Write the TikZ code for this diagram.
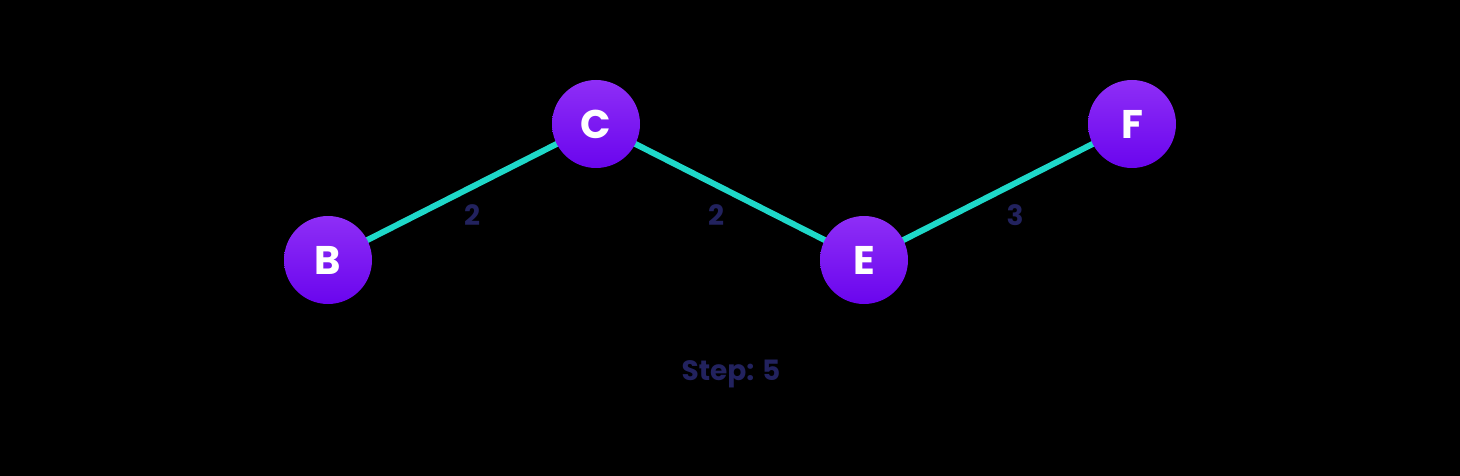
\documentclass[tikz,border=0pt]{standalone}
\usepackage{fontspec}
\setmainfont{Poppins}
\definecolor{nodetop}{HTML}{8E2EF6}
\definecolor{nodebot}{HTML}{6A05EE}
\definecolor{edgecol}{HTML}{1ED8C9}
\definecolor{labcol}{HTML}{22225E}
\tikzset{
  vertex/.style={circle, minimum size=88pt, inner sep=0pt, top color=nodetop, bottom color=nodebot, draw=none, text=white, font=\fontsize{40}{40}\selectfont\bfseries},
  edge/.style={draw=edgecol, line width=6pt},
  weight/.style={text=labcol, font=\fontsize{28}{28}\selectfont\bfseries, inner sep=0pt},
}
\begin{document}
\begin{tikzpicture}[x=1pt,y=-1pt]
\fill[black] (0,0) rectangle (1460,476);
\useasboundingbox (0,0) rectangle (1460,476);
\coordinate (cB) at (328,260);
\coordinate (cC) at (596,124);
\coordinate (cE) at (864,260);
\coordinate (cF) at (1132,124);
\draw[edge] (cB) -- (cC);
\draw[edge] (cC) -- (cE);
\draw[edge] (cE) -- (cF);
\node[vertex] (B) at (cB) {B};
\node[vertex] (C) at (cC) {C};
\node[vertex] (E) at (cE) {E};
\node[vertex] (F) at (cF) {F};
\node[weight] (w1) at (472,215) {2};
\node[weight] (w2) at (716,215) {2};
\node[weight] (w3) at (1015,215) {3};
\node[text=labcol, font=\fontsize{28}{28}\selectfont\bfseries] (step) at (731,374) {Step: 5};
\end{tikzpicture}
\end{document}
